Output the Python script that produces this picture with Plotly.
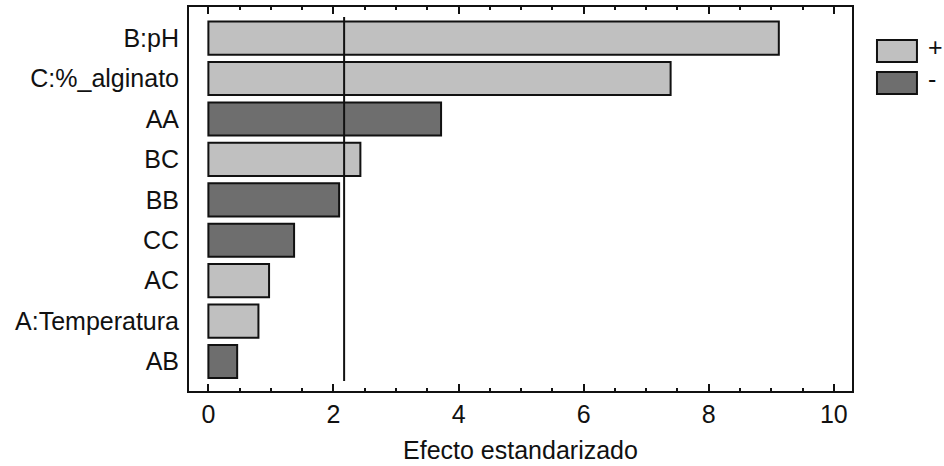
import plotly.graph_objects as go

# Data
factors = ["B:pH", "C:%_alginato", "AA", "BC", "BB", "CC", "AC", "A:Temperatura", "AB"]
effects = [9.12, 7.39, 3.72, 2.43, 2.09, 1.37, 0.97, 0.80, 0.46]
signs = ["+", "+", "-", "+", "-", "-", "+", "+", "-"]
threshold = 2.17
x_ticks = [0, 2, 4, 6, 8, 10]

LIGHT = "#c0c0c0"
DARK = "#6e6e6e"
FONT = "Liberation Sans, Arial, sans-serif"
FS = 25

order = factors[::-1]  # bottom to top

fig = go.Figure()
for s, col in (("+", LIGHT), ("-", DARK)):
    ys = [f for f, g in zip(factors, signs) if g == s]
    xs = [e for e, g in zip(effects, signs) if g == s]
    fig.add_trace(go.Bar(
        x=xs, y=ys, orientation="h", name=s,
        marker=dict(color=col, line=dict(color="#111111", width=2)),
        width=0.82, showlegend=False, hoverinfo="x+y",
    ))

fig.add_shape(type="line", xref="x", yref="y",
              x0=threshold, x1=threshold, y0=-0.48, y1=8.52,
              line=dict(color="#111111", width=2))

# legend drawn manually
PL, PW, PB, PH = 188.5, 663.5, 391, 384
leg = [("+", LIGHT, 0.0), ("-", DARK, 1.0)]
for lab, col, i in leg:
    y_top = 40 + i * 32
    fig.add_shape(type="rect", xref="paper", yref="paper",
                  x0=(877 - PL) / PW, x1=(917 - PL) / PW,
                  y0=(PB - (y_top + 22)) / PH, y1=(PB - y_top) / PH,
                  fillcolor=col, line=dict(color="#111111", width=2))
    fig.add_annotation(xref="paper", yref="paper",
                       x=(926 - PL) / PW, y=(PB - (y_top + 7)) / PH,
                       text=lab, showarrow=False, xanchor="left", yanchor="middle",
                       font=dict(size=FS, color="#111111", family=FONT))

fig.update_layout(
    width=944, height=466,
    margin=dict(l=188.5, r=92, t=7, b=75, autoexpand=False),
    plot_bgcolor="white", paper_bgcolor="white",
    barmode="overlay",
    font=dict(family=FONT, size=FS, color="#111111"),
)
fig.update_xaxes(
    range=[-0.31, 10.29],
    tickvals=x_ticks,
    ticks="inside", ticklen=7, tickwidth=1.5, tickcolor="#111111",
    minor=dict(dtick=0.5, ticks="inside", ticklen=3, tickwidth=1.5, tickcolor="#111111", showgrid=False),
    showline=True, linecolor="#111111", linewidth=2, mirror="ticks",
    showgrid=False, zeroline=False,
    ticklabelstandoff=0,
    title=dict(text="Efecto estandarizado", standoff=14, font=dict(size=FS)),
    tickfont=dict(size=FS),
)
fig.update_yaxes(
    type="category", categoryorder="array", categoryarray=order,
    range=[-0.73, 8.77],
    ticks="", showline=True, linecolor="#111111", linewidth=2, mirror=True,
    showgrid=False, zeroline=False,
    ticklabelstandoff=3,
    tickfont=dict(size=FS),
)

fig.write_html("out.html", config={"displayModeBar": False},
               post_script="document.body.style.margin='0';")
